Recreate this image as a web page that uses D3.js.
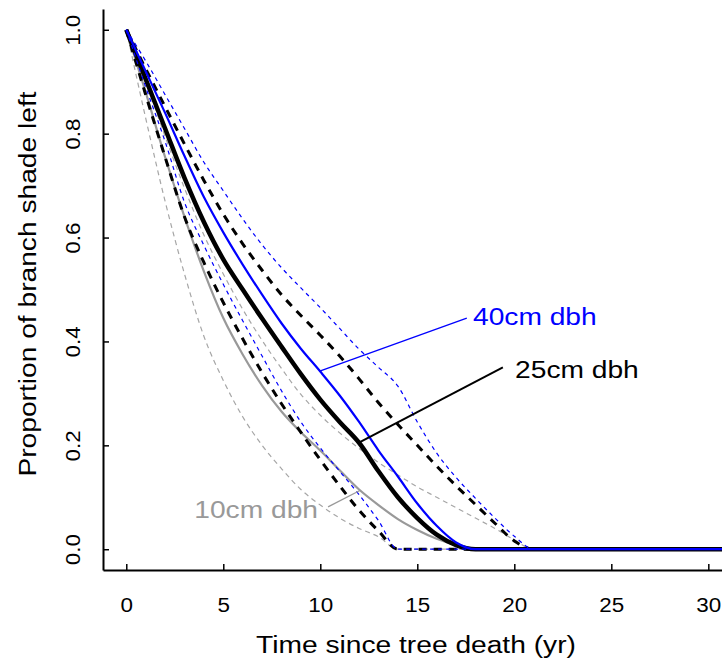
<!DOCTYPE html>
<html>
<head>
<meta charset="utf-8">
<script src="https://cdn.jsdelivr.net/npm/d3@7"></script>
<style>
  body { margin: 0; background: #fff; }
  text { font-family: "Liberation Sans", Arial, sans-serif; }
</style>
</head>
<body>
<div id="chart"></div>
<script>
// Years since tree death (last point just carries the zero line off the plot)
var years = [0, 1, 2, 3, 4, 5, 6, 7, 8, 9, 10, 11, 12, 13, 14, 15, 16, 17, 18, 19, 20, 21, 35];

// 10cm dbh: mean and interval
var mean10 = [1, 0.88, 0.755, 0.64, 0.535, 0.445, 0.375, 0.315, 0.265, 0.225, 0.19, 0.152, 0.115, 0.085, 0.058, 0.037, 0.02, 0.008, 0, 0, 0, 0, 0];
var lo10 = [1, 0.83, 0.67, 0.53, 0.41, 0.325, 0.255, 0.2, 0.155, 0.115, 0.085, 0.06, 0.04, 0.024, 0, 0, 0, 0, 0, 0, 0, 0, 0];
var hi10 = [1, 0.9, 0.795, 0.695, 0.605, 0.53, 0.462, 0.402, 0.348, 0.298, 0.258, 0.224, 0.194, 0.167, 0.143, 0.12, 0.1, 0.08, 0.06, 0.04, 0.018, 0, 0];

// 25cm dbh
var mean25 = [1, 0.905, 0.81, 0.715, 0.63, 0.558, 0.5, 0.444, 0.39, 0.337, 0.288, 0.245, 0.205, 0.15, 0.1, 0.06, 0.028, 0.008, 0, 0, 0, 0, 0];
var lo25 = [1, 0.875, 0.755, 0.64, 0.552, 0.475, 0.405, 0.34, 0.28, 0.225, 0.172, 0.122, 0.075, 0.035, 0, 0, 0, 0, 0, 0, 0, 0, 0];
var hi25 = [1, 0.925, 0.852, 0.78, 0.71, 0.645, 0.588, 0.537, 0.49, 0.45, 0.412, 0.372, 0.328, 0.282, 0.24, 0.2, 0.16, 0.122, 0.086, 0.05, 0.016, 0, 0];

// 40cm dbh
var mean40 = [1, 0.92, 0.84, 0.757, 0.678, 0.61, 0.548, 0.49, 0.435, 0.386, 0.342, 0.296, 0.245, 0.19, 0.14, 0.088, 0.045, 0.013, 0, 0, 0, 0, 0];
var lo40 = [1, 0.89, 0.785, 0.668, 0.585, 0.51, 0.44, 0.372, 0.305, 0.245, 0.195, 0.15, 0.105, 0.055, 0, 0, 0, 0, 0, 0, 0, 0, 0];
var hi40 = [1, 0.94, 0.875, 0.81, 0.745, 0.69, 0.636, 0.586, 0.542, 0.503, 0.465, 0.425, 0.385, 0.35, 0.314, 0.245, 0.185, 0.138, 0.098, 0.06, 0.025, 0, 0];

// Axis ticks
var xTicks = [0, 5, 10, 15, 20, 25, 30];
var yTicks = [0, 0.2, 0.4, 0.6, 0.8, 1.0];

// Size-class labels with their pointer segments (data units)
var labelNames = ["10cm dbh", "25cm dbh", "40cm dbh"];
var pointerFrom = [[10.4, 0.0815], [12.04, 0.206], [9.97, 0.343]];
var pointerTo = [[12.04, 0.113], [19.41, 0.35], [17.55, 0.445]];

var width = 722, height = 663;
var stretch = "scale(1.15,1)"; // the original glyphs run a bit wide

var svg = d3.select("#chart")
    .append("svg")
    .attr("width", width)
    .attr("height", height);

// Scales: R style 4% padding around 0-30 and 0-1
var x = d3.scaleLinear().domain([-1.2, 31.2]).range([103, 731.6]);
var y = d3.scaleLinear().domain([-0.04, 1.04]).range([570, 9]);

// Y axis, ticks pointing inward, labels rotated
var yAxis = svg.append("g")
    .attr("transform", "translate(103,0)")
    .call(d3.axisLeft(y).tickValues(yTicks).tickSizeInner(-6).tickSizeOuter(0).tickFormat(d3.format(".1f")));

yAxis.select(".domain").attr("stroke-width", 2);
yAxis.selectAll(".tick line").attr("stroke-width", 1.5);
yAxis.selectAll(".tick text")
    .attr("x", null)
    .attr("dy", null)
    .attr("transform", "translate(-23,0) rotate(-90) " + stretch)
    .attr("text-anchor", "middle")
    .attr("fill", "#000")
    .style("font-size", "19.5px");

// X axis
var xAxis = svg.append("g")
    .attr("transform", "translate(0,570)")
    .call(d3.axisBottom(x).tickValues(xTicks).tickSizeInner(-6).tickSizeOuter(0).tickFormat(d3.format("d")));

xAxis.select(".domain").attr("stroke-width", 2);
xAxis.selectAll(".tick line").attr("stroke-width", 1.5);
xAxis.selectAll(".tick text")
    .attr("y", null)
    .attr("dy", null)
    .attr("transform", "translate(0,42) " + stretch)
    .attr("text-anchor", "middle")
    .attr("fill", "#000")
    .style("font-size", "19.5px");

// Axis titles
svg.append("text")
    .attr("transform", "translate(416,653) " + stretch)
    .attr("text-anchor", "middle")
    .style("font-size", "24.5px")
    .text("Time since tree death (yr)");

svg.append("text")
    .attr("transform", "translate(36,284) rotate(-90) " + stretch)
    .attr("text-anchor", "middle")
    .style("font-size", "24.5px")
    .text("Proportion of branch shade left");

// Lines, smoothed between the yearly values
var line = d3.line()
    .x(function (d) { return x(d[0]); })
    .y(function (d) { return y(d[1]); })
    .curve(d3.curveMonotoneX);

function drawSeries(values, color, widthPx, dash) {
    svg.append("path")
        .datum(years.map(function (t, i) { return [t, values[i]]; }))
        .attr("fill", "none")
        .attr("stroke", color)
        .attr("stroke-width", widthPx)
        .attr("stroke-dasharray", dash)
        .attr("stroke-linejoin", "round")
        .attr("d", line);
}

drawSeries(lo10, "#a6a6a6", 1.2, "5,4");
drawSeries(hi10, "#a6a6a6", 1.2, "5,4");
drawSeries(mean10, "#999999", 2.2, null);

drawSeries(lo25, "#000000", 3, "8,7");
drawSeries(hi25, "#000000", 3, "8,7");
drawSeries(mean25, "#000000", 4.5, null);

drawSeries(lo40, "#0000ff", 1.2, "4,4");
drawSeries(hi40, "#0000ff", 1.2, "4,4");
drawSeries(mean40, "#0000ff", 2.2, null);

// Pointer segments and labels
var labelColors = ["#999999", "#000000", "#0000ff"];
var pointerWidths = [1.3, 2, 1.3];
var labelPos = [
    { t: 9.88, v: 0.06, anchor: "end" },
    { t: 20.04, v: 0.33, anchor: "start" },
    { t: 17.87, v: 0.432, anchor: "start" }
];

labelNames.forEach(function (name, i) {
    svg.append("line")
        .attr("x1", x(pointerFrom[i][0]))
        .attr("y1", y(pointerFrom[i][1]))
        .attr("x2", x(pointerTo[i][0]))
        .attr("y2", y(pointerTo[i][1]))
        .attr("stroke", labelColors[i])
        .attr("stroke-width", pointerWidths[i]);

    svg.append("text")
        .attr("transform", "translate(" + x(labelPos[i].t) + "," + y(labelPos[i].v) + ") " + stretch)
        .attr("text-anchor", labelPos[i].anchor)
        .attr("fill", labelColors[i])
        .style("font-size", "24.5px")
        .text(name);
});
</script>
</body>
</html>
